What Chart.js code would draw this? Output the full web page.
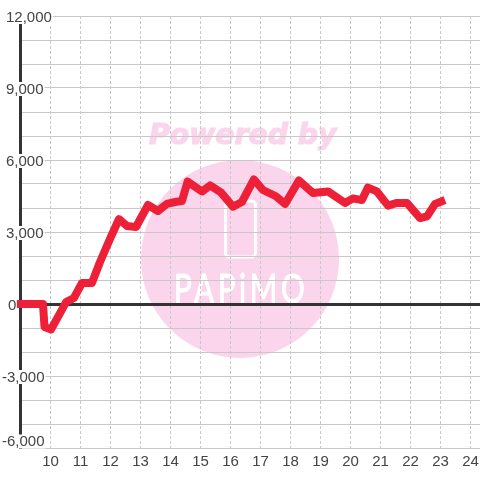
<html>

<head>
    <title>Line chart</title>
    <meta charset="utf-8">
    <script src="https://cdnjs.cloudflare.com/ajax/libs/Chart.js/4.4.1/chart.umd.min.js"></script>
    <style>
        body { margin: 0; background: #fff; }
    </style>
</head>

<body>
    <canvas id="chart" width="480" height="480"></canvas>

    <script>
        const hours = [8.88, 9.75, 9.8, 10.02, 10.52, 10.78, 11.05, 11.38, 11.65, 11.98, 12.28, 12.55, 12.85,
            13.25, 13.58, 13.88, 14.15, 14.38, 14.57, 15.05, 15.32, 15.68, 16.08, 16.38, 16.78, 17.08, 17.5,
            17.82, 18.28, 18.75, 19.25, 19.82, 20.08, 20.38, 20.58, 20.88, 21.25, 21.55, 21.88, 22.32, 22.55,
            22.82, 23.15];
        const profit = [0, 0, -958, -1060, 80, 250, 875, 875, 1750, 2700, 3540, 3250, 3210,
            4125, 3875, 4170, 4250, 4290, 5100, 4690, 4940, 4650, 4060, 4250, 5190, 4750, 4500,
            4170, 5150, 4625, 4690, 4210, 4400, 4330, 4850, 4690, 4100, 4210, 4210, 3580, 3650,
            4170, 4330];
        const hourTicks = [10, 11, 12, 13, 14, 15, 16, 17, 18, 19, 20, 21, 22, 23, 24];
        const valueTicks = [-6000, -5000, -4000, -3000, -2000, -1000, 0, 1000, 2000, 3000, 4000, 5000, 6000,
            7000, 8000, 9000, 10000, 11000, 12000];
        const valueLabels = [12000, 9000, 6000, 3000, 0, -3000, -6000];

        const LABEL_FONT = '15px "Liberation Sans"';
        const PINK = '#fbd5ec';

        // pale logo behind the grid
        const watermark = {
            id: 'watermark',
            beforeDraw(chart) {
                const ctx = chart.ctx;
                ctx.save();
                ctx.fillStyle = PINK;
                ctx.strokeStyle = PINK;
                ctx.beginPath();
                ctx.arc(240, 259, 99, 0, Math.PI * 2);
                ctx.fill();

                ctx.font = 'italic bold 28.3px "DejaVu Sans"';
                ctx.textBaseline = 'alphabetic';
                ctx.lineWidth = 1.2;
                ctx.fillText('Powered by', 149, 144);
                ctx.strokeText('Powered by', 149, 144);

                ctx.strokeStyle = '#fff';
                ctx.lineWidth = 3;
                ctx.beginPath();
                ctx.roundRect(225.5, 201, 30, 56, 4);
                ctx.stroke();

                // logo letters are tall and narrow
                ctx.fillStyle = '#fff';
                ctx.lineWidth = 1;
                ctx.font = '40px "Lato"';
                ctx.letterSpacing = '5px';
                ctx.translate(174, 303);
                ctx.scale(0.74, 1);
                ctx.fillText('PAPiMO', 0, 0);
                ctx.strokeText('PAPiMO', 0, 0);
                ctx.restore();
            }
        };

        // y labels sit on top of the axis line with a white box behind them
        const yLabels = {
            id: 'yLabels',
            beforeDatasetsDraw(chart) {
                const ctx = chart.ctx;
                const scale = chart.scales.y;
                ctx.save();
                ctx.font = LABEL_FONT;
                ctx.textBaseline = 'middle';
                for (const value of valueLabels) {
                    const text = value.toLocaleString('en-US');
                    const y = Math.min(scale.getPixelForValue(value), scale.bottom - 7.5);
                    let x = 6;
                    if (value < 0) x = 2;
                    if (value === 0) x = 8;
                    const w = ctx.measureText(text).width;
                    ctx.fillStyle = '#fff';
                    ctx.fillRect(x - 1, y - 6, w + 2, 14);
                    ctx.fillStyle = '#444';
                    ctx.fillText(text, x, y + 1.5);
                }
                ctx.restore();
            }
        };

        const canvas = document.getElementById('chart');

        new Chart(canvas, {
            type: 'line',
            data: {
                labels: hours,
                datasets: [{
                    data: hours.map((h, i) => ({ x: h, y: profit[i] })),
                    borderColor: '#ee2038',
                    borderWidth: 8,
                    borderJoinStyle: 'round',
                    pointRadius: 0,
                    tension: 0,
                    fill: false,
                    clip: false
                }]
            },
            options: {
                responsive: false,
                animation: false,
                layout: { padding: { left: 20.5, top: 16, right: 0, bottom: 0 } },
                plugins: {
                    legend: { display: false },
                    title: { display: false },
                    tooltip: { enabled: false }
                },
                scales: {
                    x: {
                        type: 'linear',
                        min: 9,
                        max: 24.3167,
                        afterBuildTicks: (scale) => { scale.ticks = hourTicks.map(v => ({ value: v })); },
                        afterFit: (scale) => {
                            scale.height = 32;
                            scale.paddingLeft = 0;
                            scale.paddingRight = 0;
                        },
                        border: { display: false, dash: [3, 2] },
                        grid: { color: '#c8c8c8', lineWidth: 1, drawTicks: false },
                        ticks: {
                            autoSkip: false,
                            maxRotation: 0,
                            padding: 5,
                            color: '#444',
                            font: { family: 'Liberation Sans', size: 15 },
                            callback: (v) => String(v)
                        }
                    },
                    y: {
                        min: -6000,
                        max: 12000,
                        afterBuildTicks: (scale) => { scale.ticks = valueTicks.map(v => ({ value: v })); },
                        afterFit: (scale) => { scale.width = 0; },
                        border: { display: true, color: '#333', width: 3 },
                        grid: {
                            drawTicks: false,
                            color: (c) => (c.tick && c.tick.value === 0 ? '#333' : '#c8c8c8'),
                            lineWidth: (c) => (c.tick && c.tick.value === 0 ? 3 : 1)
                        },
                        ticks: { display: false }
                    }
                }
            },
            plugins: [watermark, yLabels]
        });
    </script>
</body>

</html>
